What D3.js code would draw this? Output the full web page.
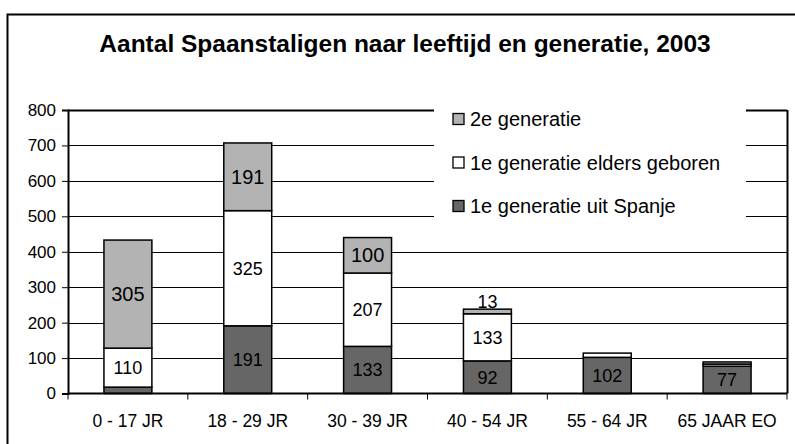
<!DOCTYPE html>
<html>
<head>
<meta charset="utf-8">
<script src="https://cdn.jsdelivr.net/npm/d3@7"></script>
<style>
  body { margin: 0; background: #fff; }
  text { font-family: "Liberation Sans", Arial, sans-serif; }
</style>
</head>
<body>
<div id="viz"></div>
<script>
// categories and series
const categories = ['0 - 17 JR', '18 - 29 JR', '30 - 39 JR', '40 - 54 JR', '55 - 64 JR', '65 JAAR EO'];
const uitSpanje = [18, 191, 133, 92, 102, 77];
const eldersGeboren = [110, 325, 207, 133, 12, 6];
const tweedeGen = [305, 191, 100, 13, 0, 6];
const seriesNames = ['1e generatie uit Spanje', '1e generatie elders geboren', '2e generatie'];
const colors = ['#666666', '#ffffff', '#b3b3b3'];
const yTicks = [0, 100, 200, 300, 400, 500, 600, 700, 800];
// labels not printed in the original
const hiddenLabels = [[0, 0], [4, 1], [5, 1], [5, 2]];

const width = 795, height = 444;
const margin = { top: 110, right: 8, bottom: 50, left: 68 };
const labelSize = [18, 18, 20]; // value labels of the light grey series are larger

let svg = d3.select('#viz').append('svg')
  .attr('width', width)
  .attr('height', height);

// outer chart border
svg.append('rect')
  .attr('x', 7.5).attr('y', 14.5)
  .attr('width', 820).attr('height', 500)
  .attr('fill', '#fff')
  .attr('stroke', '#000')
  .attr('stroke-width', 2);

svg.append('text')
  .text('Aantal Spaanstaligen naar leeftijd en generatie, 2003')
  .attr('x', 405).attr('y', 52)
  .attr('text-anchor', 'middle')
  .style('font-weight', 'bold')
  .style('font-size', '24.5px');

let x = d3.scaleBand()
  .domain(categories)
  .range([margin.left, width - margin.right])
  .paddingInner(0.6)
  .paddingOuter(0.3);

let y = d3.scaleLinear()
  .domain([0, 800])
  .range([393.5, 110]);

// gridlines
svg.append('g')
  .selectAll('line')
  .data(yTicks.slice(1))
  .join('line')
  .attr('x1', margin.left).attr('x2', width - margin.right)
  .attr('y1', d => Math.round(y(d)) + 0.5).attr('y2', d => Math.round(y(d)) + 0.5)
  .attr('stroke', '#000')
  .attr('stroke-width', d => d === 800 ? 2 : 1);

// right border of plot area
svg.append('line')
  .attr('x1', width - margin.right + 0.5).attr('x2', width - margin.right + 0.5)
  .attr('y1', y(800)).attr('y2', y(0))
  .attr('stroke', '#000').attr('stroke-width', 2);

// stacked data
let rows = categories.map((c, i) => ({
  cat: c,
  s0: uitSpanje[i],
  s1: eldersGeboren[i],
  s2: tweedeGen[i]
}));
let stack = d3.stack().keys(['s0', 's1', 's2'])(rows);

let isHidden = (i, k) => hiddenLabels.some(h => h[0] === i && h[1] === k);

stack.forEach((layer, k) => {
  let g = svg.append('g');
  g.selectAll('rect')
    .data(layer)
    .join('rect')
    .attr('x', d => x(d.data.cat))
    .attr('y', d => y(d[1]))
    .attr('width', x.bandwidth())
    .attr('height', d => y(d[0]) - y(d[1]))
    .attr('fill', colors[k])
    .attr('stroke', '#000')
    .attr('stroke-width', 1.5);
});

stack.forEach((layer, k) => {
  svg.append('g')
    .selectAll('text')
    .data(layer.map((d, i) => ({ d: d, i: i })).filter(o => !isHidden(o.i, k) && o.d[1] > o.d[0]))
    .join('text')
    .text(o => o.d[1] - o.d[0])
    .attr('x', o => x(o.d.data.cat) + x.bandwidth() / 2)
    .attr('y', o => {
      let h = y(o.d[0]) - y(o.d[1]);
      if (h < 10) return y(o.d[1]) - 1;
      return (y(o.d[0]) + y(o.d[1])) / 2 + labelSize[k] * 0.36;
    })
    .attr('text-anchor', 'middle')
    .style('font-size', o => (y(o.d[0]) - y(o.d[1]) < 10 ? 18 : labelSize[k]) + 'px')
    .attr('fill', '#000');
});

// y axis
let yAxis = svg.append('g')
  .attr('transform', `translate(${margin.left},0)`)
  .call(d3.axisLeft(y).tickValues(yTicks).tickSize(6).tickPadding(6));
yAxis.select('.domain').attr('stroke-width', 2);
yAxis.selectAll('text').style('font-size', '17px').style('font-family', '"Liberation Sans", Arial, sans-serif');

// x axis with ticks between categories
let xAxis = svg.append('g')
  .attr('transform', `translate(0,${y(0)})`);
xAxis.append('line')
  .attr('x1', margin.left).attr('x2', width - margin.right)
  .attr('stroke', '#000').attr('stroke-width', 2);
let step = x.step();
let edges = d3.range(categories.length + 1).map(i => x(categories[0]) - step * 0.3 + i * step);
xAxis.selectAll('.tk')
  .data(edges)
  .join('line')
  .attr('class', 'tk')
  .attr('x1', d => d).attr('x2', d => d)
  .attr('y1', 0).attr('y2', 6)
  .attr('stroke', '#000');
xAxis.selectAll('.lb')
  .data(categories)
  .join('text')
  .attr('class', 'lb')
  .text(d => d)
  .attr('x', d => x(d) + x.bandwidth() / 2)
  .attr('y', 33)
  .attr('text-anchor', 'middle')
  .style('font-size', '17.5px');

// legend
let legend = svg.append('g');
legend.append('rect')
  .attr('x', 434).attr('y', 98)
  .attr('width', 312).attr('height', 132)
  .attr('fill', '#fff');
let legendOrder = [2, 1, 0];
legendOrder.forEach((k, j) => {
  let cy = 119 + j * 43.5;
  legend.append('rect')
    .attr('x', 453).attr('y', cy - 5.5)
    .attr('width', 11).attr('height', 11)
    .attr('fill', colors[k])
    .attr('stroke', '#000')
    .attr('stroke-width', 1.3);
  legend.append('text')
    .text(seriesNames[k])
    .attr('x', 470).attr('y', cy + 7)
    .style('font-size', '20px');
});
</script>
</body>
</html>
